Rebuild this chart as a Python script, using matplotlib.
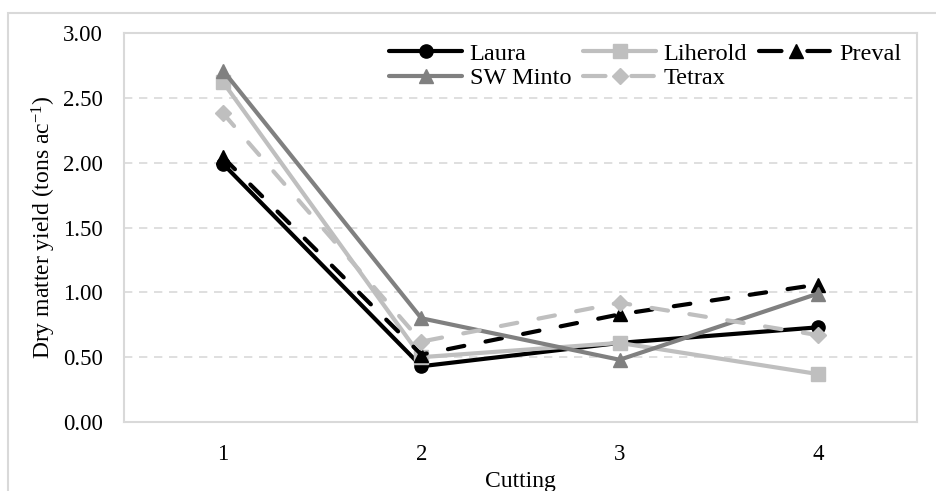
import matplotlib.pyplot as plt
from matplotlib.patches import Rectangle
from matplotlib.lines import Line2D

plt.rcParams['font.family'] = ['Liberation Serif', 'DejaVu Serif']
plt.rcParams['mathtext.fontset'] = 'custom'
plt.rcParams['mathtext.rm'] = 'Liberation Serif'
plt.rcParams['mathtext.it'] = 'Liberation Serif'

cuttings = ['1', '2', '3', '4']
laura = [1.99, 0.43, 0.61, 0.73]
liherold = [2.62, 0.50, 0.61, 0.37]
preval = [2.04, 0.52, 0.83, 1.06]
sw_minto = [2.71, 0.80, 0.48, 0.99]
tetrax = [2.38, 0.62, 0.92, 0.67]

series = [
    ('Laura', laura, '#000000', '-', 'o'),
    ('Liherold', liherold, '#BFBFBF', '-', 's'),
    ('Preval', preval, '#000000', '--', '^'),
    ('SW Minto', sw_minto, '#808080', '-', '^'),
    ('Tetrax', tetrax, '#BFBFBF', '--', 'D'),
]

fig = plt.figure(figsize=(9.37, 4.91), dpi=100)
ax = fig.add_axes([124 / 937, 1 - 422 / 491, 793 / 937, 389 / 491])

# outer chart border (cropped at right/bottom in the original)
fig.patches.append(Rectangle((8 / 937, -0.2), 1.2, 1.2 - 13 / 491,
                             transform=fig.transFigure, fill=False,
                             edgecolor='#D9D9D9', linewidth=1.5, clip_on=False))

x = range(len(cuttings))
handles = {}
for name, vals, col, ls, mk in series:
    ms = 8 if mk == 'D' else 9.5
    line, = ax.plot(x, vals, color=col, linestyle=ls, linewidth=3, marker=mk,
                    markersize=ms, label=name, solid_capstyle='round',
                    dash_capstyle='round')
    if ls == '--':
        line.set_dashes([4, 5.2])
    # legend proxy: dash pattern that fits the handle (dash - marker - dash)
    proxy = Line2D([], [], color=col, linestyle=ls, linewidth=3, marker=mk,
                   markersize=ms, solid_capstyle='round', dash_capstyle='round')
    if ls == '--':
        proxy.set_dashes([5.4, 6.2])
    handles[name] = proxy

ax.set_xlim(-0.5, 3.5)
ax.set_ylim(0, 3)
ax.set_xticks(list(x))
ax.set_xticklabels(cuttings)
ax.set_yticks([0, 0.5, 1, 1.5, 2, 2.5, 3])
ax.set_yticklabels(['%.2f' % v for v in [0, 0.5, 1, 1.5, 2, 2.5, 3]])
ax.tick_params(length=0, labelsize=16.5)
ax.tick_params(axis='y', pad=15)
ax.tick_params(axis='x', pad=16)
for v in [0.5, 1, 1.5, 2, 2.5]:
    ax.axhline(v, color='#D9D9D9', linewidth=1.2, linestyle=(0, (5, 4)), zorder=0)
for s in ax.spines.values():
    s.set_color('#D9D9D9')
    s.set_linewidth(1.5)

ax.set_ylabel(r'Dry matter yield (tons ac$^{-1}$)', fontsize=17, labelpad=4)
ax.set_xlabel('Cutting', fontsize=17, labelpad=4)

# row-major legend order, blank filler keeps the last column aligned
blank = Line2D([], [], linestyle='none')
order = ['Laura', 'SW Minto', 'Liherold', 'Tetrax', 'Preval']
ax.legend([handles[n] for n in order] + [blank], order + [''], loc='upper right',
          bbox_to_anchor=(1.005, 1.025), ncol=3, frameon=False,
          fontsize=17.5, handlelength=3.0, handletextpad=0.3, columnspacing=0.5,
          labelspacing=0.1, borderpad=0.3)

fig.savefig('out.png', dpi=100)
